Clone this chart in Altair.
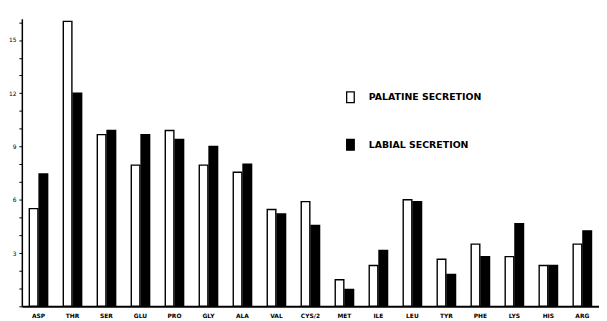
import altair as alt
import pandas as pd

amino = ["ASP", "THR", "SER", "GLU", "PRO", "GLY", "ALA", "VAL", "CYS/2",
         "MET", "ILE", "LEU", "TYR", "PHE", "LYS", "HIS", "ARG"]
palatine = [5.5, 16.05, 9.67, 7.95, 9.9, 7.95, 7.55, 5.45, 5.9,
            1.5, 2.3, 6.0, 2.65, 3.5, 2.8, 2.3, 3.5]
labial = [7.45, 12.0, 9.9, 9.67, 9.4, 9.0, 8.0, 5.2, 4.55,
          0.95, 3.15, 5.9, 1.8, 2.8, 4.65, 2.3, 4.25]
series = ["PALATINE SECRETION", "LABIAL SECRETION"]
y_ticks = list(range(0, 17))

rows = []
for i, a in enumerate(amino):
    rows.append({"aa": a, "series": series[0], "value": palatine[i]})
    rows.append({"aa": a, "series": series[1], "value": labial[i]})
df = pd.DataFrame(rows)

bars = alt.Chart(df).mark_bar(strokeWidth=1.4, stroke="black").encode(
    x=alt.X("aa:N", sort=amino, title=None,
            scale=alt.Scale(paddingInner=0.46, paddingOuter=0.22),
            axis=alt.Axis(labelAngle=0, ticks=False, domain=True, domainColor="black",
                          domainWidth=2, labelFont="DejaVu Sans", labelFontWeight="bold",
                          labelFontSize=6, labelColor="black", labelPadding=6)),
    xOffset=alt.XOffset("series:N", sort=series, scale=alt.Scale(paddingInner=0.12)),
    y=alt.Y("value:Q", title=None,
            scale=alt.Scale(domain=[0, 16.2], nice=False),
            axis=alt.Axis(values=y_ticks, grid=False, domainColor="black", domainWidth=1.5,
                          tickColor="black", tickSize=3, tickWidth=1,
                          labelExpr="(datum.value % 3 == 0 && datum.value > 0) ? datum.label : ''",
                          labelFont="DejaVu Sans", labelFontSize=6, labelColor="black",
                          labelPadding=3)),
    fill=alt.Fill("series:N", sort=series,
                  scale=alt.Scale(domain=series, range=["white", "black"]),
                  legend=alt.Legend(title=None, orient="none", legendX=326, legendY=73,
                                    direction="vertical", rowPadding=31,
                                    symbolType="M-0.7,-1H0.7V1H-0.7Z",
                                    symbolSize=120, symbolStrokeColor="black",
                                    symbolStrokeWidth=1.3,
                                    labelFont="DejaVu Sans", labelFontWeight="bold",
                                    labelFontSize=9.5, labelColor="black", labelOffset=12)),
)

chart = bars.properties(
    width=584, height=291,
    padding={"left": 0, "top": 9, "right": 0, "bottom": 0},
    background="white",
).configure_view(stroke=None)

chart.save("out.html", embed_options={"renderer": "svg", "actions": False})
